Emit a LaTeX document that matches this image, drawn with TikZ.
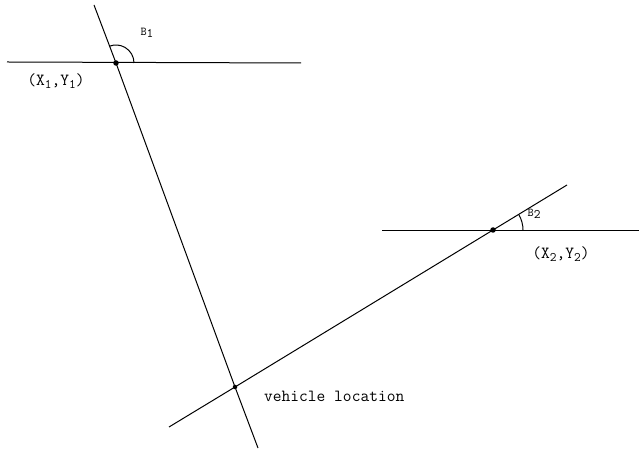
\documentclass[tikz,border=0pt]{standalone}
\usetikzlibrary{positioning}

\newcommand{\lowidx}[1]{\raisebox{-0.45ex}{\fontsize{13}{13}\selectfont #1}}

\begin{document}
\begin{tikzpicture}[
    x=1pt, y=1pt,
    bearing/.style={draw=black, line width=1pt},
    fix/.style={circle, fill=black, inner sep=0pt, minimum size=5.5pt},
    lbl/.style={inner sep=1pt, font=\ttfamily\fontsize{17}{19}\selectfont},
    anglbl/.style={inner sep=1pt, font=\ttfamily\fontsize{12}{13}\selectfont}
]
\useasboundingbox (0,0) rectangle (639,452);

% fixes and vehicle
\node[fix] (p1) at (116,389) {};
\node[fix] (p2) at (493,222) {};
\node[fix, minimum size=4.5pt] (veh) at (235,65) {};

% end points of the lines
\coordinate (h1a) at (7,390);
\coordinate (h1b) at (301,389);
\coordinate (h2a) at (382,221);
\coordinate (h2b) at (639,221);
\coordinate (l1a) at (94,447);
\coordinate (l1b) at (258,4);
\coordinate (l2a) at (169,25);
\coordinate (l2b) at (567,267);

\draw[bearing] (h1a) -- (h1b);
\draw[bearing] (h2a) -- (h2b);
\draw[bearing] (l1a) -- (p1.center) -- (veh.center) -- (l1b);
\draw[bearing] (l2a) -- (veh.center) -- (p2.center) -- (l2b);

% bearing angles
\draw[bearing] (p1.center) ++(0:18) arc[start angle=0, end angle=111, radius=18];
\draw[bearing] (p2.center) ++(0:30) arc[start angle=0, end angle=31, radius=30];

\node[anglbl] (b1) at (147,419) {B\lowidx{1}};
\node[anglbl] (b2) at (534,238) {B\lowidx{2}};
\node[lbl] (xy1) at (56,371) {(X\lowidx{1},Y\lowidx{1})};
\node[lbl] (xy2) at (561,198) {(X\lowidx{2},Y\lowidx{2})};
\node[lbl, anchor=west] (vloc) at (263,56) {vehicle location};

\end{tikzpicture}
\end{document}
